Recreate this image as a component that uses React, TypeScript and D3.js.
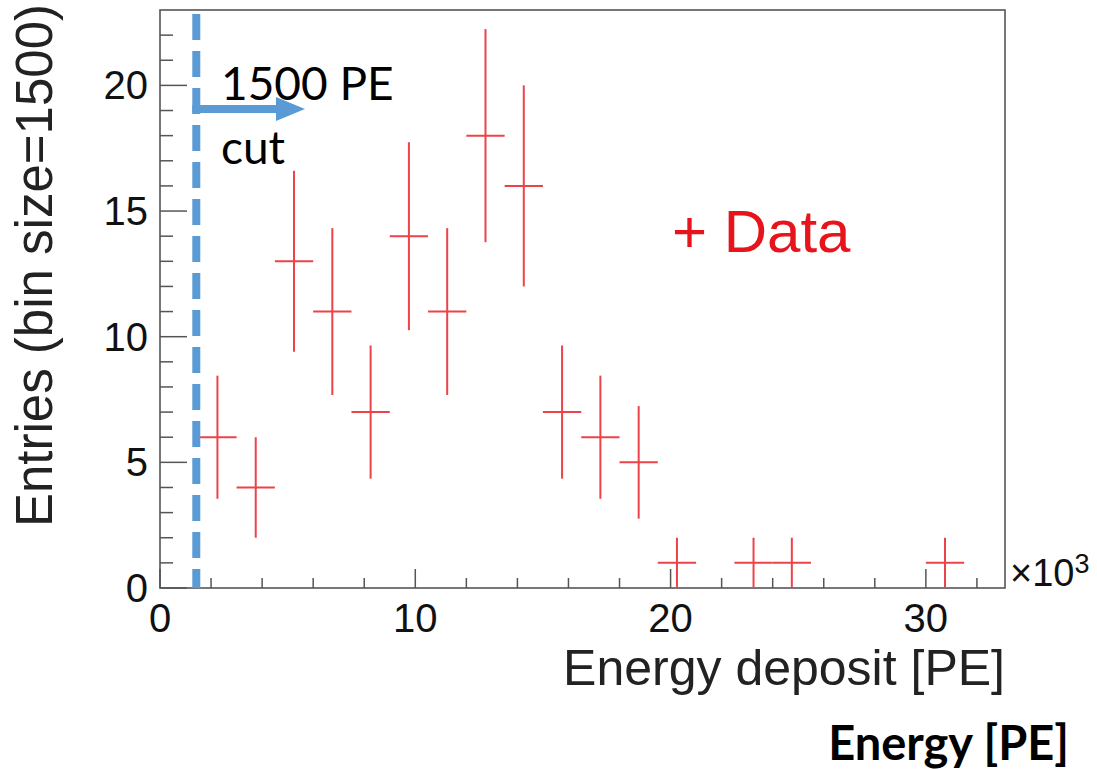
import React, { useRef, useEffect } from 'react';
import { select, scaleLinear, range } from 'd3';

// bin centres in units of 10^3 PE (bin size = 1500 PE)
const binCenters = [2.25, 3.75, 5.25, 6.75, 8.25, 9.75, 11.25, 12.75, 14.25, 15.75, 17.25, 18.75, 20.25, 23.25, 24.75, 30.75];
const entries = [6, 4, 13, 11, 7, 14, 11, 18, 16, 7, 6, 5, 1, 1, 1, 1];
const errors = [2.45, 2, 3.6, 3.32, 2.65, 3.74, 3.32, 4.24, 4, 2.65, 2.45, 2.24, 1, 1, 1, 1];
const binWidth = 1.5;
const xTicks = [0, 10, 20, 30];
const yTicks = [0, 5, 10, 15, 20];
const cutValue = 1.5;

const W = 1097;
const H = 769;

const App = () => {
  const svgRef = useRef(null);

  useEffect(() => {
    const svg = select(svgRef.current);
    svg.selectAll('*').remove();

    //xScale
    const xScale = scaleLinear().domain([0, 33.1]).range([160, 1005]);
    //yScale
    const yScale = scaleLinear().domain([0, 23]).range([588, 10]);

    const axisColor = '#555';
    const sans = 'Liberation Sans, Arial, sans-serif';
    const calibri = 'Lato, Open Sans, sans-serif';

    // frame
    svg
      .append('rect')
      .attr('x', xScale(0))
      .attr('y', yScale(23))
      .attr('width', xScale(33.1) - xScale(0))
      .attr('height', yScale(0) - yScale(23))
      .attr('fill', 'white')
      .attr('stroke', axisColor)
      .attr('stroke-width', 1.6);

    // x ticks (minor every 2, major every 10)
    svg
      .selectAll('.xtick')
      .data(range(0, 33, 2))
      .join('line')
      .attr('class', 'xtick')
      .attr('x1', d => xScale(d))
      .attr('x2', d => xScale(d))
      .attr('y1', yScale(0))
      .attr('y2', d => yScale(0) - (d % 10 === 0 ? 19 : 10))
      .attr('stroke', axisColor)
      .attr('stroke-width', 1.5);

    // y ticks (minor every 1, major every 5)
    svg
      .selectAll('.ytick')
      .data(range(0, 23, 1))
      .join('line')
      .attr('class', 'ytick')
      .attr('x1', xScale(0))
      .attr('x2', d => xScale(0) + (d % 5 === 0 ? 27 : 13))
      .attr('y1', d => yScale(d))
      .attr('y2', d => yScale(d))
      .attr('stroke', axisColor)
      .attr('stroke-width', 1.5);

    // tick labels
    svg
      .selectAll('.xlabel')
      .data(xTicks)
      .join('text')
      .attr('class', 'xlabel')
      .attr('x', d => xScale(d))
      .attr('y', 632)
      .attr('text-anchor', 'middle')
      .attr('font-family', sans)
      .attr('font-size', 40)
      .attr('fill', '#111')
      .text(d => d);

    svg
      .selectAll('.ylabel')
      .data(yTicks)
      .join('text')
      .attr('class', 'ylabel')
      .attr('x', 148)
      .attr('y', d => yScale(d) + 14)
      .attr('text-anchor', 'end')
      .attr('font-family', sans)
      .attr('font-size', 40)
      .attr('fill', '#111')
      .text(d => d);

    // x10^3
    const mult = svg
      .append('text')
      .attr('x', 1010)
      .attr('y', 586)
      .attr('font-family', sans)
      .attr('font-size', 38)
      .attr('fill', '#111');
    mult.append('tspan').text('\u00d710');
    mult.append('tspan').attr('dy', -13).attr('font-size', 27).text('3');

    // axis titles
    svg
      .append('text')
      .attr('x', 1005)
      .attr('y', 685)
      .attr('text-anchor', 'end')
      .attr('font-family', sans)
      .attr('font-size', 50)
      .attr('fill', '#222')
      .text('Energy deposit [PE]');

    svg
      .append('text')
      .attr('transform', 'translate(52, 4) rotate(-90)')
      .attr('text-anchor', 'end')
      .attr('font-family', sans)
      .attr('font-size', 51)
      .attr('fill', '#222')
      .text('Entries (bin size=1500)');

    svg
      .append('text')
      .attr('x', 1069)
      .attr('y', 760)
      .attr('text-anchor', 'end')
      .attr('font-family', calibri)
      .attr('font-weight', 'bold')
      .attr('font-size', 47)
      .attr('fill', '#000')
      .text('Energy [PE]');

    // data: horizontal bin bars and vertical error bars
    const red = '#ec4349';
    const pts = binCenters.map((c, i) => ({ c, n: entries[i], e: errors[i] }));
    svg
      .selectAll('.hbar')
      .data(pts)
      .join('line')
      .attr('class', 'hbar')
      .attr('x1', d => xScale(d.c - binWidth / 2))
      .attr('x2', d => xScale(d.c + binWidth / 2))
      .attr('y1', d => yScale(d.n))
      .attr('y2', d => yScale(d.n))
      .attr('stroke', red)
      .attr('stroke-width', 2);
    svg
      .selectAll('.vbar')
      .data(pts)
      .join('line')
      .attr('class', 'vbar')
      .attr('x1', d => xScale(d.c))
      .attr('x2', d => xScale(d.c))
      .attr('y1', d => yScale(Math.max(0, d.n - d.e)))
      .attr('y2', d => yScale(d.n + d.e))
      .attr('stroke', red)
      .attr('stroke-width', 2);

    // legend text
    svg
      .append('text')
      .attr('x', 672)
      .attr('y', 252)
      .attr('font-family', sans)
      .attr('font-size', 60)
      .attr('fill', '#e8141c')
      .text('+ Data');

    // cut line + arrow
    const blue = '#5b9bd5';
    const cx = xScale(cutValue) - 2;
    svg
      .append('line')
      .attr('x1', cx)
      .attr('x2', cx)
      .attr('y1', 14)
      .attr('y2', yScale(0))
      .attr('stroke', blue)
      .attr('stroke-width', 8)
      .attr('stroke-dasharray', '26 11');

    svg
      .append('line')
      .attr('x1', cx - 4)
      .attr('x2', 280)
      .attr('y1', 109)
      .attr('y2', 109)
      .attr('stroke', blue)
      .attr('stroke-width', 8);
    svg
      .append('path')
      .attr('d', 'M276,97 L305,109 L276,121 Z')
      .attr('fill', blue);

    svg
      .append('text')
      .attr('x', 221)
      .attr('y', 100)
      .attr('font-family', calibri)
      .attr('font-size', 46)
      .attr('fill', '#000')
      .text('1500 PE');
    svg
      .append('text')
      .attr('x', 221)
      .attr('y', 164)
      .attr('font-family', calibri)
      .attr('font-size', 46)
      .attr('fill', '#000')
      .text('cut');
  }, []);

  return (
    <svg
      ref={svgRef}
      width={W}
      height={H}
      style={{ position: 'absolute', left: 0, top: 0, background: 'white' }}
    ></svg>
  );
};

export default App;
